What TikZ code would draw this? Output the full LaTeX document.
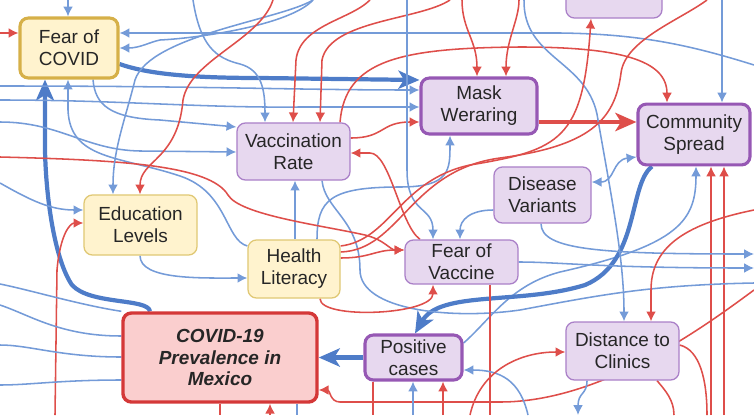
\documentclass[tikz,border=0pt]{standalone}
\usepackage{fontspec}
\setmainfont{Liberation Sans}
\usepackage{tikz}
\usetikzlibrary{arrows.meta, backgrounds}
\definecolor{eblue}{RGB}{116,155,216}
\definecolor{eblued}{RGB}{78,124,200}
\definecolor{ered}{RGB}{222,78,74}
\definecolor{pfill}{RGB}{231,216,239}
\definecolor{pline}{RGB}{170,128,200}
\definecolor{pthick}{RGB}{150,88,180}
\definecolor{yfill}{RGB}{255,243,206}
\definecolor{yline}{RGB}{224,200,116}
\definecolor{ythick}{RGB}{214,176,72}
\definecolor{rfill}{RGB}{250,206,206}
\definecolor{rline}{RGB}{212,56,56}

\begin{document}
\begin{tikzpicture}[x=0.025cm, y=-0.025cm,
  box/.style={rounded corners=6pt, align=center, inner sep=0pt, text=black!85,
    font=\fontsize{13.5}{15.6}\selectfont, line width=0.9pt},
  purp/.style={box, fill=pfill, draw=pline},
  purpb/.style={purp, draw=pthick, line width=2.2pt},
  yel/.style={box, fill=yfill, draw=yline},
  yelb/.style={yel, draw=ythick, line width=2.2pt},
  redb/.style={box, fill=rfill, draw=rline, line width=2.4pt, font=\fontsize{13.5}{15.6}\selectfont\bfseries\itshape},
  bl/.style={draw=eblue, line width=1.1pt},
  rd/.style={draw=ered, line width=1.1pt},
  arr/.style={-{Latex[length=7pt,width=7pt]}},
  fat/.style={draw=eblued, line width=3pt, -{Stealth[length=15pt,width=13pt,inset=4pt]}},
]
  \useasboundingbox (0,0) rectangle (754,415);

  % border points of the crop
  \foreach \n/\x in {1/68,2/193,3/273,4/370,5/450,6/462,7/407,8/519,9/524,10/707,11/722,12/313}
    \coordinate (t\n) at (\x,0);
  \foreach \n/\x in {1/55,2/220,3/270,4/297,5/373,6/413,7/443,8/490,9/578,10/707,11/674,12/711,13/724,15/470,16/528}
    \coordinate (b\n) at (\x,415);
  \foreach \n/\y in {1/33,2/86,3/122,4/157,5/183,6/284,7/305,8/345,9/385,10/100}
    \coordinate (l\n) at (0,\y);
  \foreach \n/\y in {1/65,2/254,3/268,4/290,5/210,6/283}
    \coordinate (r\n) at (754,\y);

  \node[yelb, minimum width=2.45cm, minimum height=1.5cm] (fearcovid) at (69,48) {Fear of\\COVID};
  \node[purp, minimum width=2.4cm, minimum height=0.95cm] (topnode) at (614,-1) {};
  \node[purpb, minimum width=2.9cm, minimum height=1.4cm] (mask) at (479,106) {Mask\\Weraring};
  \node[purpb, minimum width=2.8cm, minimum height=1.52cm] (spread) at (694,134.5) {Community\\Spread};
  \node[purp, minimum width=2.825cm, minimum height=1.425cm] (vaccrate) at (293.5,151.5) {Vaccination\\Rate};
  \node[purp, minimum width=2.425cm, minimum height=1.4cm] (variants) at (542.5,195) {Disease\\Variants};
  \node[yel, minimum width=2.825cm, minimum height=1.5cm] (edu) at (140.5,225) {Education\\Levels};
  \node[yel, minimum width=2.3cm, minimum height=1.45cm] (health) at (294,269) {Health\\Literacy};
  \node[purp, minimum width=2.825cm, minimum height=1.1cm] (fearvacc) at (461.5,262) {Fear of\\Vaccine};
  \node[redb, minimum width=4.85cm, minimum height=2.225cm] (prev) at (220,357.5) {COVID-19\\Prevalence in\\Mexico};
  \node[purpb, minimum width=2.425cm, minimum height=1.125cm] (poscases) at (413.5,357.5) {Positive\\cases};
  \node[purp, minimum width=2.825cm, minimum height=1.45cm] (clinics) at (622.5,351) {Distance to\\Clinics};

  \begin{scope}[on background layer]
  \clip (0,0) rectangle (754,415);
  % into Fear of COVID
  \draw[bl,arr] (t1) -- (fearcovid.north -| t1);
  \draw[rd,arr] (l1) -- (l1 -| fearcovid.west);
  \draw[bl,arr] (r1) .. controls (690,45) and (640,34) .. (560,33) -- (fearcovid.east |- 0,33);
  \draw[bl,arr] (t12) .. controls (290,25) and (200,38) .. (160,40) .. controls (150,42) and (140,48) .. (fearcovid.east |- 0,48);
  \draw[bl,arr] (health.west |- 0,246) .. controls (225,240) and (228,192) .. (180,176) .. controls (120,156) and (70,160) .. (68,110) -- (fearcovid.south -| 68,0);
  \draw[fat] (prev.north -| 150,0) .. controls (148,298) and (90,305) .. (72,285) .. controls (55,260) and (46,200) .. (45,150) -- (fearcovid.south -| 45,0);
  % Mask Weraring
  \draw[fat] (fearcovid.east |- 0,64) .. controls (150,75) and (200,78) .. (260,78) -- (mask.west |- 0,80);
  \draw[bl,arr] (l2) .. controls (200,86) and (300,90) .. (mask.west |- 0,90);
  \draw[bl,arr] (l10) .. controls (120,100) and (200,108) .. (300,107) -- (mask.west |- 0,107);
  \draw[rd,arr] (vaccrate.east |- 0,138) .. controls (385,138) and (380,122) .. (mask.west |- 0,122);
  \draw[rd,arr] (t6) .. controls (462,30) and (477,40) .. (mask.north -| 477,0);
  \draw[rd,arr] (t8) .. controls (519,20) and (506,40) .. (mask.north -| 506,0);
  \draw[bl,arr] (health.north -| 317,0) .. controls (317,200) and (330,187) .. (400,187) .. controls (450,187) and (450,170) .. (mask.south -| 450,0);
  \draw[fat, draw=ered] (mask.east |- 0,122) -- (spread.west |- 0,122);
  % Community Spread
  \draw[rd,arr] (vaccrate.north -| 340,0) .. controls (345,60) and (400,48) .. (520,47) .. controls (620,47) and (667,60) .. (spread.north -| 667,0);
  \draw[bl,arr] (t11) -- (spread.north -| t11);
  \draw[bl,{Latex[length=7pt,width=7pt]}-{Latex[length=7pt,width=7pt]}] (variants.east |- 0,182) .. controls (615,182) and (612,160) .. (spread.west |- 0,157);
  \draw[bl,arr] (poscases.east |- 0,343) .. controls (490,320) and (510,285) .. (560,272) .. controls (680,245) and (696,220) .. (spread.south -| 696,0);
  \draw[rd,arr] (b12) -- (spread.south -| b12);
  \draw[rd,arr] (b13) -- (spread.south -| b13);
  \draw[fat] (spread.south -| 652,0) .. controls (628,185) and (640,262) .. (585,285) .. controls (520,305) and (440,290) .. (poscases.north -| 415,0);
  % Vaccination Rate
  \draw[bl,arr] (t2) .. controls (200,45) and (215,58) .. (240,64) .. controls (262,70) and (265,90) .. (vaccrate.north -| 265,0);
  \draw[rd,arr] (t4) .. controls (350,20) and (300,25) .. (296,60) -- (vaccrate.north -| 293,0);
  \draw[rd,arr] (t5) .. controls (420,20) and (330,20) .. (322,60) -- (vaccrate.north -| 320,0);
  \draw[bl,arr] (fearcovid.south -| 93,0) .. controls (95,105) and (110,118) .. (160,120) -- (vaccrate.west |- 0,127);
  \draw[bl,arr] (l3) .. controls (60,122) and (85,150) .. (140,151) -- (vaccrate.west |- 0,152);
  \draw[rd,arr] (fearvacc.north -| 420,0) .. controls (400,225) and (390,153) .. (370,153) -- (vaccrate.east |- 0,153);
  \draw[bl,arr] (health.north -| 295,0) -- (vaccrate.south -| 295,0);
  \draw[bl] (vaccrate.south -| 322,0) .. controls (325,210) and (360,220) .. (360,270) .. controls (360,310) and (450,320) .. (520,310) .. controls (600,295) and (650,285) .. (r6);
  % Disease Variants
  \draw[bl,arr] (variants.west |- 0,210) .. controls (470,210) and (460,220) .. (fearvacc.north -| 460,0);
  \draw[bl,arr] (variants.south -| 541,0) .. controls (541,250) and (600,254) .. (r2);
  \draw[bl,arr] (fearvacc.east |- 0,262) .. controls (560,262) and (600,268) .. (r3);
  \draw[bl,arr] (t9) .. controls (523,60) and (590,60) .. (598,120) .. controls (612,200) and (624,260) .. (clinics.north -| 624,0);
  \draw[bl,arr] (t7) -- (407,170) .. controls (407,215) and (433,205) .. (fearvacc.north -| 433,0);
  % Health Literacy and Fear of Vaccine
  \draw[rd,arr] (health.east |- 0,258) .. controls (370,258) and (375,250) .. (fearvacc.west |- 0,250);
  \draw[rd,arr] (l4) .. controls (120,160) and (210,165) .. (228,195) .. controls (240,215) and (320,225) .. (365,235) .. controls (385,240) and (390,250) .. (fearvacc.west |- 0,250);
  \draw[rd,arr] (health.east |- 0,246) .. controls (390,240) and (400,180) .. (470,165) .. controls (560,150) and (583,140) .. (topnode.south -| 591,0);
  \draw[rd] (health.east |- 0,252) .. controls (400,250) and (410,170) .. (500,158) .. controls (590,146) and (615,120) .. (621,73) .. controls (625,40) and (680,20) .. (t10);
  \draw[rd,arr] (health.south -| 320,0) .. controls (320,320) and (433,315) .. (fearvacc.south -| 433,0);
  \draw[rd] (fearvacc.south -| b8) -- (b8);
  % Education Levels
  \draw[bl,arr] (t12) .. controls (280,20) and (150,35) .. (135,80) .. controls (125,120) and (113,150) .. (edu.north -| 113,0);
  \draw[rd,arr] (t3) .. controls (260,40) and (190,60) .. (183,100) .. controls (178,160) and (140,160) .. (edu.north -| 140,0);
  \draw[bl,arr] (l5) .. controls (30,200) and (50,210) .. (edu.west |- 0,210);
  \draw[rd,arr] (b1) -- (57,270) .. controls (60,235) and (70,223) .. (edu.west |- 0,223);
  \draw[bl,arr] (edu.south -| 140,0) .. controls (140,280) and (200,278) .. (health.west |- 0,278);
  % COVID-19 Prevalence
  \draw[bl] (prev.north west) .. controls (80,305) and (30,290) .. (l6);
  \draw[bl] (prev.west |- 0,336) .. controls (60,336) and (30,315) .. (l7);
  \draw[bl] (prev.west |- 0,357) .. controls (60,357) and (30,345) .. (l8);
  \draw[bl] (prev.west |- 0,380) .. controls (60,380) and (30,385) .. (l9);
  \draw[fat] (poscases.west) -- (prev.east);
  \draw[rd,arr] (r4) .. controls (700,330) and (600,402) .. (500,402) -- (340,402) .. controls (330,402) and (330,390) .. (prev.east |- 0,390);
  \draw[rd,arr] (b3) -- (prev.south -| b3);
  \draw[bl] (prev.south -| b4) -- (b4);
  \draw[rd] (prev.south -| b2) -- (b2);
  % Positive cases
  \draw[bl,arr] (b6) -- (poscases.south -| b6);
  \draw[rd,arr] (b7) -- (poscases.south -| b7);
  \draw[rd] (poscases.south -| b5) -- (b5);
  \draw[bl,arr] (b16) .. controls (520,380) and (500,370) .. (poscases.east |- 0,370);
  % Distance to Clinics
  \draw[rd,arr] (r5) .. controls (680,225) and (651,250) .. (651,290) -- (clinics.north -| 651,0);
  \draw[rd,arr] (b15) .. controls (480,370) and (520,352) .. (clinics.west |- 0,352);
  \draw[bl,arr] (clinics.south -| 587,0) .. controls (587,395) and (578,392) .. (b9);
  \draw[rd] (clinics.east |- 0,345) .. controls (700,350) and (707,380) .. (b10);
  \draw[rd] (clinics.south -| 657,0) .. controls (665,390) and (674,400) .. (b11);
  \end{scope}
\end{tikzpicture}
\end{document}
